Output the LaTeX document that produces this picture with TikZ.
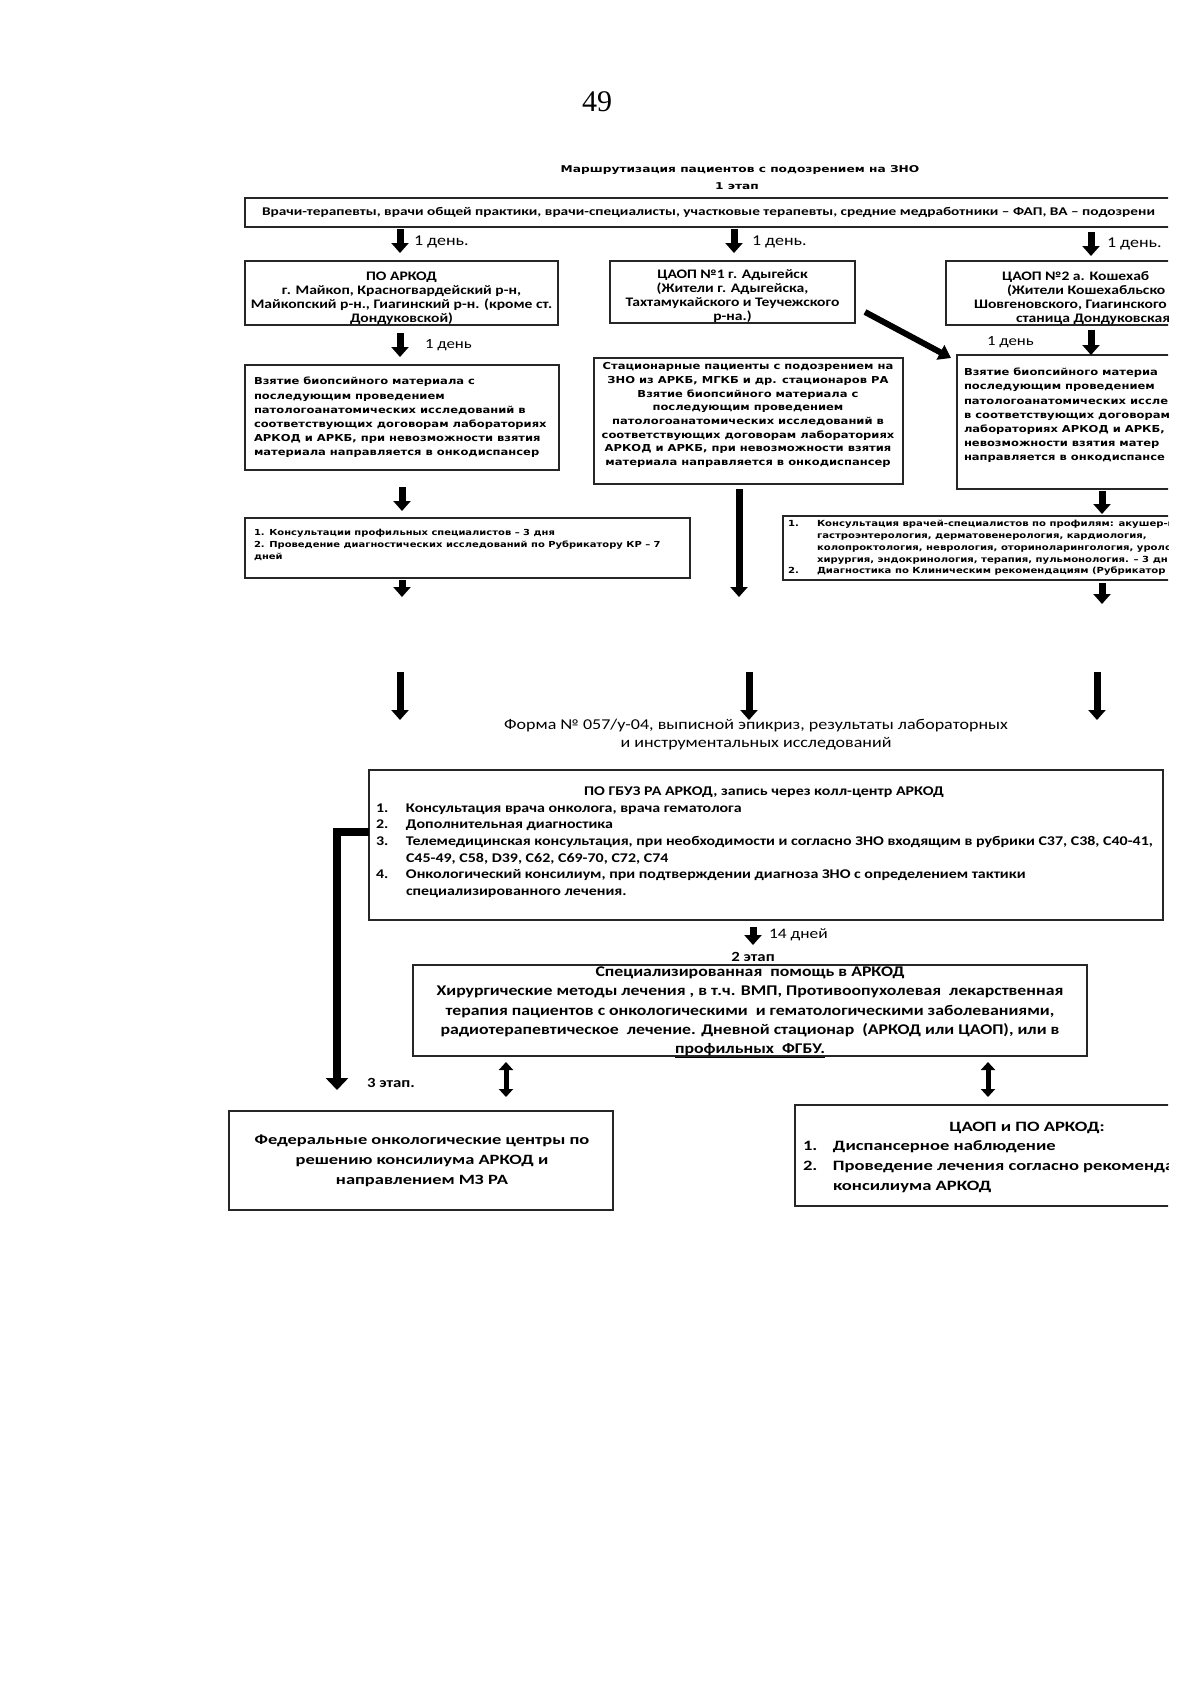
\documentclass[tikz,border=0pt]{standalone}
\usepackage{fontspec}
\setmainfont{Carlito}
\newfontfamily\cw[FakeStretch=1.2]{Carlito}
\newfontfamily\cww[FakeStretch=1.3]{Carlito}
\newfontfamily\dw[FakeStretch=1.2]{DejaVu Sans}
\newfontfamily\dww[FakeStretch=1.3]{DejaVu Sans}
\newfontfamily\lser{Liberation Serif}
\usetikzlibrary{arrows.meta,calc}
\newcommand{\myfs}[2]{\fontsize{#1}{#2}\selectfont}
\newcommand{\mynum}[2][30pt]{\makebox[#1][l]{#2}}
\begin{document}
\begin{tikzpicture}[x=1pt,y=-1pt,
 box/.style={draw=black!85,line width=1.3pt,inner sep=0pt,outer sep=0pt},
 txt/.style={inner sep=0pt,outer sep=0pt},
 blk/.style={line width=7pt,-{Triangle[width=17pt,length=10pt]}},
 blkbig/.style={line width=8pt,line join=miter,-{Triangle[width=22pt,length=12pt]}},
 blkdiag/.style={line width=6pt,-{Triangle[width=16pt,length=12pt]}},
 dbl/.style={line width=5pt,{Triangle[width=14pt,length=8pt]}-{Triangle[width=14pt,length=8pt]}},
]
\useasboundingbox (0,0) rectangle (1200,1692);
\fill[white] (0,0) rectangle (1200,1692);

\node[txt,font=\lser\myfs{30}{30}] (pg) at (597,102) {49};
\node[txt,font=\dww\bfseries\myfs{9.4}{12}] (title) at (740,170) {Маршрутизация пациентов с подозрением на ЗНО};
\node[txt,font=\dww\bfseries\myfs{9.4}{12}] (st1) at (737,186) {1 этап};

\begin{scope}
\clip (0,0) rectangle (1168,1692);

% top row
\node[box,minimum width=1055pt,minimum height=29pt] (top) at (772.5,212.5) {};
\node[txt,anchor=west,font=\cww\bfseries\myfs{11.8}{14}] (toptxt) at (262,212.5) {Врачи-терапевты, врачи общей практики, врачи-специалисты, участковые терапевты, средние медработники – ФАП, ВА – подозрени};

\coordinate (c1) at (400,0);
\coordinate (c2) at (734,0);
\coordinate (c3) at (1091,0);
\coordinate (c4) at (1102,0);
\coordinate (c5) at (753,0);
\coordinate (c6) at (506,0);
\coordinate (c7) at (988,0);

\node[box,minimum width=313pt,minimum height=64pt] (po) at (401.5,293) {};
\node[txt,align=center,font=\cw\bfseries\myfs{13}{14}] (potxt) at (401.5,298) {ПО АРКОД\\г. Майкоп, Красногвардейский р-н,\\Майкопский р-н., Гиагинский р-н. (кроме ст.\\Дондуковской)};

\node[box,minimum width=245pt,minimum height=62pt] (ca1) at (732.5,292) {};
\node[txt,align=center,font=\cw\bfseries\myfs{13}{14}] (ca1txt) at (732.5,296) {ЦАОП №1 г. Адыгейск\\(Жители г. Адыгейска,\\Тахтамукайского и Теучежского\\р-на.)};

\node[box,minimum width=354pt,minimum height=64pt] (ca2) at (1123,293) {};
\node[txt,anchor=west,font=\cw\bfseries\myfs{13}{14}] (ca2a) at (1002,277) {ЦАОП №2 а. Кошехаб};
\node[txt,anchor=west,font=\cw\bfseries\myfs{13}{14}] (ca2b) at (1007,291) {(Жители Кошехабльско};
\node[txt,anchor=west,font=\cw\bfseries\myfs{13}{14}] (ca2c) at (974,305) {Шовгеновского, Гиагинского};
\node[txt,anchor=west,font=\cw\bfseries\myfs{13}{14}] (ca2d) at (1016,319) {станица Дондуковская};

\node[txt,anchor=west,font=\cw\myfs{15}{16}] (d1) at (414,242) {1 день.};
\node[txt,anchor=west,font=\cw\myfs{15}{16}] (d2) at (752,242) {1 день.};
\node[txt,anchor=west,font=\cw\myfs{15}{16}] (d3) at (1107,244) {1 день.};

% second row
\node[box,minimum width=314pt,minimum height=105pt] (lb) at (402,417.5) {};
\node[txt,anchor=west,align=left,font=\dw\bfseries\myfs{9.6}{14.2}] (lbtxt) at (254,417.5) {Взятие биопсийного материала с\\последующим проведением\\патологоанатомических исследований в\\соответствующих договорам лабораториях\\АРКОД и АРКБ, при невозможности взятия\\материала направляется в онкодиспансер};

\node[box,minimum width=309pt,minimum height=126pt] (st) at (748.5,421) {};
\node[txt,align=center,font=\dw\bfseries\myfs{9.6}{13.7}] (sttxt) at (748,415) {Стационарные пациенты с подозрением на\\ЗНО из АРКБ, МГКБ и др. стационаров РА\\Взятие биопсийного материала с\\последующим проведением\\патологоанатомических исследований в\\соответствующих договорам лабораториях\\АРКОД и АРКБ, при невозможности взятия\\материала направляется в онкодиспансер};

\node[box,minimum width=343pt,minimum height=134pt] (rb) at (1128.5,422) {};
\node[txt,anchor=west,align=left,font=\dw\bfseries\myfs{9.6}{14.2}] (rbtxt) at (964,415.5) {Взятие биопсийного материа\\последующим проведением\\патологоанатомических иссле\\в соответствующих договорам\\лабораториях АРКОД и АРКБ,\\невозможности взятия матер\\направляется в онкодиспансе};

\node[txt,anchor=west,font=\cw\myfs{14}{16}] (d4) at (425,345) {1 день};
\node[txt,anchor=west,font=\cw\myfs{14}{16}] (d5) at (987,342) {1 день};

% third row
\node[box,minimum width=445pt,minimum height=60pt] (cl) at (467.5,548) {};
\node[txt,anchor=west,align=left,font=\dw\bfseries\myfs{8.3}{12}] (cltxt) at (254,545) {1. Консультации профильных специалистов – 3 дня\\2. Проведение диагностических исследований по Рубрикатору КР – 7\\дней};

\node[box,minimum width=517pt,minimum height=64pt] (rc) at (1041.5,548) {};
\node[txt,anchor=west,align=left,font=\dw\bfseries\myfs{8.4}{11.8}] (rctxt) at (788,548) {\mynum[29pt]{1.}Консультация врачей-специалистов по профилям: акушер-г\\\hspace*{29pt}гастроэнтерология, дерматовенерология, кардиология,\\\hspace*{29pt}колопроктология, неврология, оториноларингология, уроло\\\hspace*{29pt}хирургия, эндокринология, терапия, пульмонология. – 3 дн\\\mynum[29pt]{2.}Диагностика по Клиническим рекомендациям (Рубрикатор};

\coordinate (clend) at (402,597);
\coordinate (stend) at (739,597);
\coordinate (rcend) at (1102,604);
\coordinate (a1s) at (400,672);
\coordinate (a1e) at (400,720);
\coordinate (a2s) at (749,672);
\coordinate (a2e) at (749,720);
\coordinate (a3s) at (1097,672);
\coordinate (a3e) at (1097,720);

\node[txt,align=center,font=\cw\myfs{15}{18}] (form) at (756,735) {Форма № 057/у-04, выписной эпикриз, результаты лабораторных\\и инструментальных исследований};

% main box
\node[box,minimum width=794pt,minimum height=150pt] (mb) at (766,845) {};
\node[txt,font=\cw\bfseries\myfs{13.3}{16}] (mbt) at (764,792) {ПО ГБУЗ РА АРКОД, запись через колл-центр АРКОД};
\node[txt,anchor=west,align=left,font=\cw\bfseries\myfs{13.3}{16.6}] (mbl) at (376,850.5) {\mynum{1.}Консультация врача онколога, врача гематолога\\\mynum{2.}Дополнительная диагностика\\\mynum{3.}Телемедицинская консультация, при необходимости и согласно ЗНО входящим в рубрики С37, С38, С40-41,\\\hspace*{30pt}С45-49, С58, D39, С62, С69-70, С72, С74\\\mynum{4.}Онкологический консилиум, при подтверждении диагноза ЗНО с определением тактики\\\hspace*{30pt}специализированного лечения.};

\coordinate (br1) at (337,832);
\coordinate (br2) at (337,1090);
\coordinate (d14e) at (753,945);

\node[txt,anchor=west,font=\cw\bfseries\myfs{14}{16}] (st3) at (367,1083) {3 этап.};
\node[txt,anchor=west,font=\cw\myfs{14.5}{16}] (d14) at (769,935) {14 дней};
\node[txt,font=\cw\bfseries\myfs{14}{16}] (st2) at (753,957) {2 этап};

\node[box,minimum width=674pt,minimum height=91pt] (s2) at (750,1010.5) {};
\node[txt,align=center,font=\cw\bfseries\myfs{14.8}{19.2}] (s2t) at (750,1012.5) {Специализированная \ помощь в АРКОД\\Хирургические методы лечения , в т.ч. ВМП, Противоопухолевая \ лекарственная\\терапия пациентов с онкологическими \ и гематологическими заболеваниями,\\радиотерапевтическое \ лечение. Дневной стационар \ (АРКОД или ЦАОП), или в\\\underline{профильных \ ФГБУ.}};

\node[box,minimum width=384pt,minimum height=99pt] (fed) at (421,1160.5) {};
\node[txt,align=center,font=\cww\bfseries\myfs{14.2}{20}] (fedt) at (422,1161) {Федеральные онкологические центры по\\решению консилиума АРКОД и\\направлением МЗ РА};

\node[box,minimum width=505pt,minimum height=101pt] (rbx) at (1047.5,1155.5) {};
\node[txt,font=\cww\bfseries\myfs{14.3}{20}] (rbxt) at (1027,1128) {ЦАОП и ПО АРКОД:};
\node[txt,anchor=west,align=left,font=\cww\bfseries\myfs{14.3}{20}] (rbxl) at (803,1167) {\mynum{1.}Диспансерное наблюдение\\\mynum{2.}Проведение лечения согласно рекоменда\\\hspace*{30pt}консилиума АРКОД};

% connectors
\draw[blk,shorten <=2pt,shorten >=8pt] (top.south -| c1) -- (po.north -| c1);
\draw[blk,shorten <=2pt,shorten >=8pt] (top.south -| c2) -- (ca1.north -| c2);
\draw[blk,shorten <=5pt,shorten >=5pt] (top.south -| c3) -- (ca2.north -| c3);
\draw[blk,shorten <=8pt,shorten >=8pt] (po.south -| c1) -- (lb.north -| c1);
\draw[blk,shorten <=5pt,shorten >=0pt] (ca2.south -| c3) -- (rb.north -| c3);
\draw[blkdiag] ($(ca1.east)+(10,20)$) -- ($(rb.north west)+(-6,3)$);
\draw[blk,shorten <=17pt,shorten >=7pt] (lb.south) -- (lb.south |- cl.north);
\draw[blk,shorten <=2pt] (lb.south |- cl.south) -- (clend);
\draw[blk,shorten <=5pt] (st.south -| stend) -- (stend);
\draw[blk,shorten <=2pt,shorten >=2pt] (rb.south -| c4) -- (rc.north -| c4);
\draw[blk,shorten <=3pt] (rc.south -| c4) -- (rcend);
\draw[blk] (a1s) -- (a1e);
\draw[blk] (a2s) -- (a2e);
\draw[blk] (a3s) -- (a3e);
\draw[blkbig] ($(mb.west)+(0,-13)$) -- (br1) -- (br2);
\draw[blk,shorten <=7pt] (mb.south -| c5) -- (d14e);
\draw[dbl,shorten <=6pt,shorten >=14pt] (s2.south -| c6) -- (fed.north -| c6);
\draw[dbl,shorten <=6pt,shorten >=8pt] (s2.south -| c7) -- (rbx.north -| c7);
\end{scope}
\end{tikzpicture}
\end{document}
